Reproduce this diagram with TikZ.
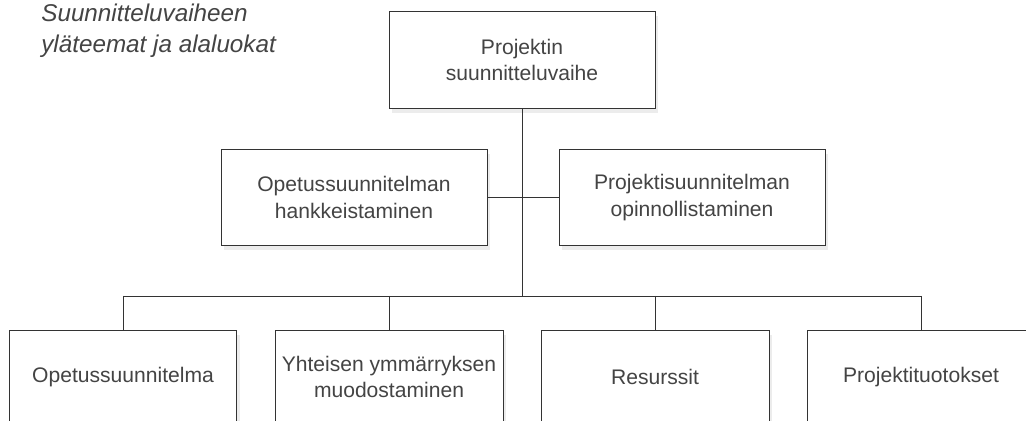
\documentclass[tikz,border=0pt]{standalone}
\usepackage{fontspec}
\setmainfont{Liberation Sans}
\usetikzlibrary{shadows}
\definecolor{boxline}{HTML}{333333}
\definecolor{textgray}{HTML}{444444}

\begin{document}
\begin{tikzpicture}[x=0.02cm, y=-0.02cm,
    themebox/.style={draw=boxline, line width=0.55pt, fill=white, align=center,
        minimum width=5.32cm, minimum height=1.93cm, inner sep=2pt,
        font=\fontsize{12}{15.3}\selectfont, text=textgray,
        drop shadow={shadow xshift=1.5pt, shadow yshift=-2.5pt, opacity=0.15}},
    subbox/.style={themebox, minimum width=4.56cm, minimum height=1.86cm},
    link/.style={draw=boxline, line width=0.55pt}]
    \clip (0,0) rectangle (1026,421);
    \fill[white] (0,0) rectangle (1026,421);

    % Title
    \node[anchor=north west, inner sep=0pt, align=left, text=textgray,
          font=\fontsize{13.8}{17.6}\selectfont\itshape] (title) at (41,4)
        {Suunnitteluvaiheen\\yläteemat ja alaluokat};

    % Draw nodes
    \node[themebox] (phase) at (522,60) {Projektin\\suunnitteluvaihe};
    \node[themebox] (hank) at (354,197.5) {Opetussuunnitelman\\hankkeistaminen};
    \node[themebox] (opin) at (692,197.5) {Projektisuunnitelman\\opinnollistaminen};
    \node[subbox] (ops) at (123,377) {Opetussuunnitelma};
    \node[subbox] (ymm) at (389,377) {Yhteisen ymmärryksen\\muodostaminen};
    \node[subbox] (res) at (655,377) {Resurssit};
    \node[subbox] (tuot) at (921,377) {Projektituotokset};
    \coordinate (barlevel) at (0,296);

    % Draw connections
    \draw[link] (hank.east) -- (opin.west);
    \draw[link] (phase.south) -- (phase.south |- barlevel);
    \draw[link] (ops.north |- barlevel) -- (tuot.north |- barlevel);
    \foreach \n in {ops,ymm,res,tuot}
        \draw[link] (\n.north |- barlevel) -- (\n.north);
\end{tikzpicture}
\end{document}
